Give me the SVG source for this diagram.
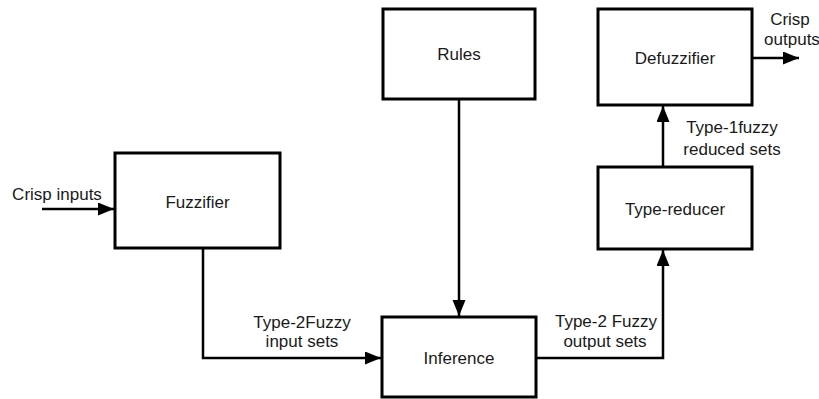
<svg xmlns="http://www.w3.org/2000/svg" width="819" height="399" viewBox="0 0 819 399">
<style>
.box{fill:#fff;stroke:#000;stroke-width:3}
.t{font-family:"Liberation Sans",Arial,sans-serif;font-size:17px;fill:#1a1a1a;text-anchor:middle}
.c{fill:none;stroke:#000;stroke-width:2.5}
</style>
<defs>
<marker id="ah" markerUnits="userSpaceOnUse" markerWidth="17" markerHeight="14" refX="16" refY="6.5" orient="auto">
<path d="M0,0 L16,6.5 L0,13 z" fill="#000"/>
</marker>
</defs>
<rect width="819" height="399" fill="#fff"/>
<g id="connectors">
<path class="c" d="M42,209 H114" marker-end="url(#ah)"/>
<path class="c" d="M203,248 V358 H381" marker-end="url(#ah)"/>
<path class="c" d="M459,99 V316" marker-end="url(#ah)"/>
<path class="c" d="M536,358 H663 V250" marker-end="url(#ah)"/>
<path class="c" d="M663,167 V106" marker-end="url(#ah)"/>
<path class="c" d="M752,58 H799" marker-end="url(#ah)"/>
<text class="t" x="302" y="328">Type-2Fuzzy</text>
<text class="t" x="302" y="347">input sets</text>
<text class="t" x="606" y="327">Type-2 Fuzzy</text>
<text class="t" x="605" y="347">output sets</text>
<text class="t" x="732" y="133">Type-1fuzzy</text>
<text class="t" x="732" y="155">reduced sets</text>
<text class="t" x="57" y="200">Crisp inputs</text>
<text class="t" x="790" y="25">Crisp</text>
<text class="t" x="792" y="45">outputs</text>
</g>
<g id="fuzzifier">
<rect class="box" x="115" y="153" width="165" height="95"/>
<text class="t" x="197.5" y="208">Fuzzifier</text>
</g>
<g id="rules">
<rect class="box" x="383" y="9" width="152" height="90"/>
<text class="t" x="459" y="60">Rules</text>
</g>
<g id="inference">
<rect class="box" x="382" y="317" width="154" height="80"/>
<text class="t" x="459" y="364">Inference</text>
</g>
<g id="type-reducer">
<rect class="box" x="598" y="167" width="154" height="82"/>
<text class="t" x="675" y="215">Type-reducer</text>
</g>
<g id="defuzzifier">
<rect class="box" x="598" y="9" width="154" height="96"/>
<text class="t" x="675" y="64">Defuzzifier</text>
</g>
</svg>
